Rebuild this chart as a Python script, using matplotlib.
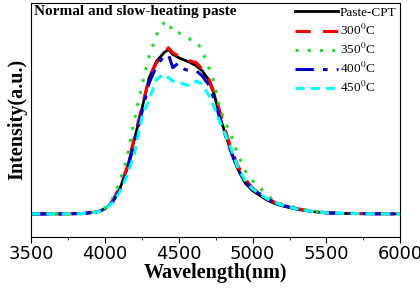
import matplotlib
matplotlib.use('Agg')
from matplotlib import pyplot as plt
from matplotlib.ticker import MultipleLocator

plt.rcParams['mathtext.fontset'] = 'stix'

wl = [3500, 3700, 3850, 3950, 4000, 4050, 4100, 4150, 4200, 4250, 4300, 4350,
      4400, 4430, 4460, 4500, 4540, 4580, 4620, 4660, 4700, 4740, 4780, 4820,
      4860, 4900, 4950, 5000, 5050, 5100, 5150, 5200, 5300, 5400, 5500, 5600,
      5800, 6000]

paste_cpt = [0, 0, 0.002, 0.012, 0.03, 0.07, 0.15, 0.27, 0.45, 0.63, 0.82, 0.92,
             0.97, 0.99, 0.96, 0.94, 0.925, 0.91, 0.89, 0.86, 0.81, 0.72, 0.58, 0.47,
             0.36, 0.27, 0.185, 0.14, 0.11, 0.082, 0.063, 0.048, 0.028, 0.014, 0.006, 0.003,
             0.001, 0]
t300 = [0, 0, 0.002, 0.012, 0.03, 0.075, 0.16, 0.28, 0.46, 0.64, 0.82, 0.91,
        0.96, 1.0, 0.97, 0.95, 0.93, 0.92, 0.91, 0.87, 0.82, 0.73, 0.61, 0.49,
        0.38, 0.29, 0.21, 0.155, 0.12, 0.09, 0.07, 0.053, 0.032, 0.016, 0.007, 0.003,
        0.001, 0]
t350 = [0, 0, 0.002, 0.012, 0.035, 0.09, 0.19, 0.34, 0.57, 0.77, 0.95, 1.08,
        1.15, 1.16, 1.09, 1.09, 1.07, 1.05, 1.04, 0.98, 0.89, 0.79, 0.63, 0.54,
        0.46, 0.36, 0.26, 0.2, 0.157, 0.11, 0.08, 0.058, 0.035, 0.018, 0.008, 0.004,
        0.001, 0]
t400 = [0, 0, 0.002, 0.012, 0.03, 0.07, 0.14, 0.26, 0.43, 0.61, 0.79, 0.89,
        0.95, 0.96, 0.88, 0.91, 0.87, 0.86, 0.86, 0.83, 0.78, 0.69, 0.57, 0.46,
        0.36, 0.27, 0.195, 0.148, 0.12, 0.09, 0.07, 0.052, 0.03, 0.015, 0.007, 0.003,
        0.001, 0]
t450 = [0, 0, 0.002, 0.011, 0.028, 0.065, 0.13, 0.23, 0.36, 0.58, 0.69, 0.81,
        0.84, 0.82, 0.8, 0.79, 0.78, 0.77, 0.8, 0.78, 0.72, 0.64, 0.55, 0.47,
        0.38, 0.28, 0.2, 0.15, 0.12, 0.09, 0.07, 0.052, 0.03, 0.015, 0.007, 0.003,
        0.001, 0]

labels = ['Paste-CPT', '300$^{\\rm 0}$C', '350$^{\\rm 0}$C', '400$^{\\rm 0}$C', '450$^{\\rm 0}$C']

fig = plt.figure(figsize=(4.2, 2.89), dpi=100)
ax = fig.add_axes([0.074, 0.18, 0.879, 0.81])

ax.plot(wl, paste_cpt, color='black', lw=2, label=labels[0])
ax.plot(wl, t300, color='red', lw=2.2, dashes=(5, 4), label=labels[1])
ax.plot(wl, t350, color='#22dd22', lw=2.2, dashes=(1, 3), label=labels[2])
ax.plot(wl, t400, color='#0000cc', lw=2.2, dashes=(6, 3, 1.5, 3), label=labels[3])
ax.plot(wl, t450, color='cyan', lw=2.2, dashes=(3, 2), label=labels[4])

ax.set_xlim(3500, 6000)
ax.set_ylim(-0.139, 1.27)
ax.set_yticks([])
ax.xaxis.set_major_locator(MultipleLocator(500))
ax.xaxis.set_minor_locator(MultipleLocator(250))
ax.tick_params(axis='x', which='major', direction='out', length=4, labelsize=13, pad=2)
ax.tick_params(axis='x', which='minor', direction='out', length=2)

ax.set_xlabel('Wavelength(nm)', family='Liberation Serif', fontweight='bold',
              fontsize=14.5, labelpad=0)
ax.set_ylabel('Intensity(a.u.)', family='Liberation Serif', fontweight='bold',
              fontsize=14.5, labelpad=3)
ax.text(0.008, 0.99, 'Normal and slow-heating paste', transform=ax.transAxes,
        ha='left', va='top', family='Liberation Serif', fontweight='bold', fontsize=11)

ax.legend(loc='upper right', frameon=False, prop={'family': 'Liberation Serif', 'size': 9.5},
          handlelength=3.3, handletextpad=0.1, labelspacing=0.3,
          borderaxespad=0.1, borderpad=0.2)

fig.savefig('out.png', dpi=100)
